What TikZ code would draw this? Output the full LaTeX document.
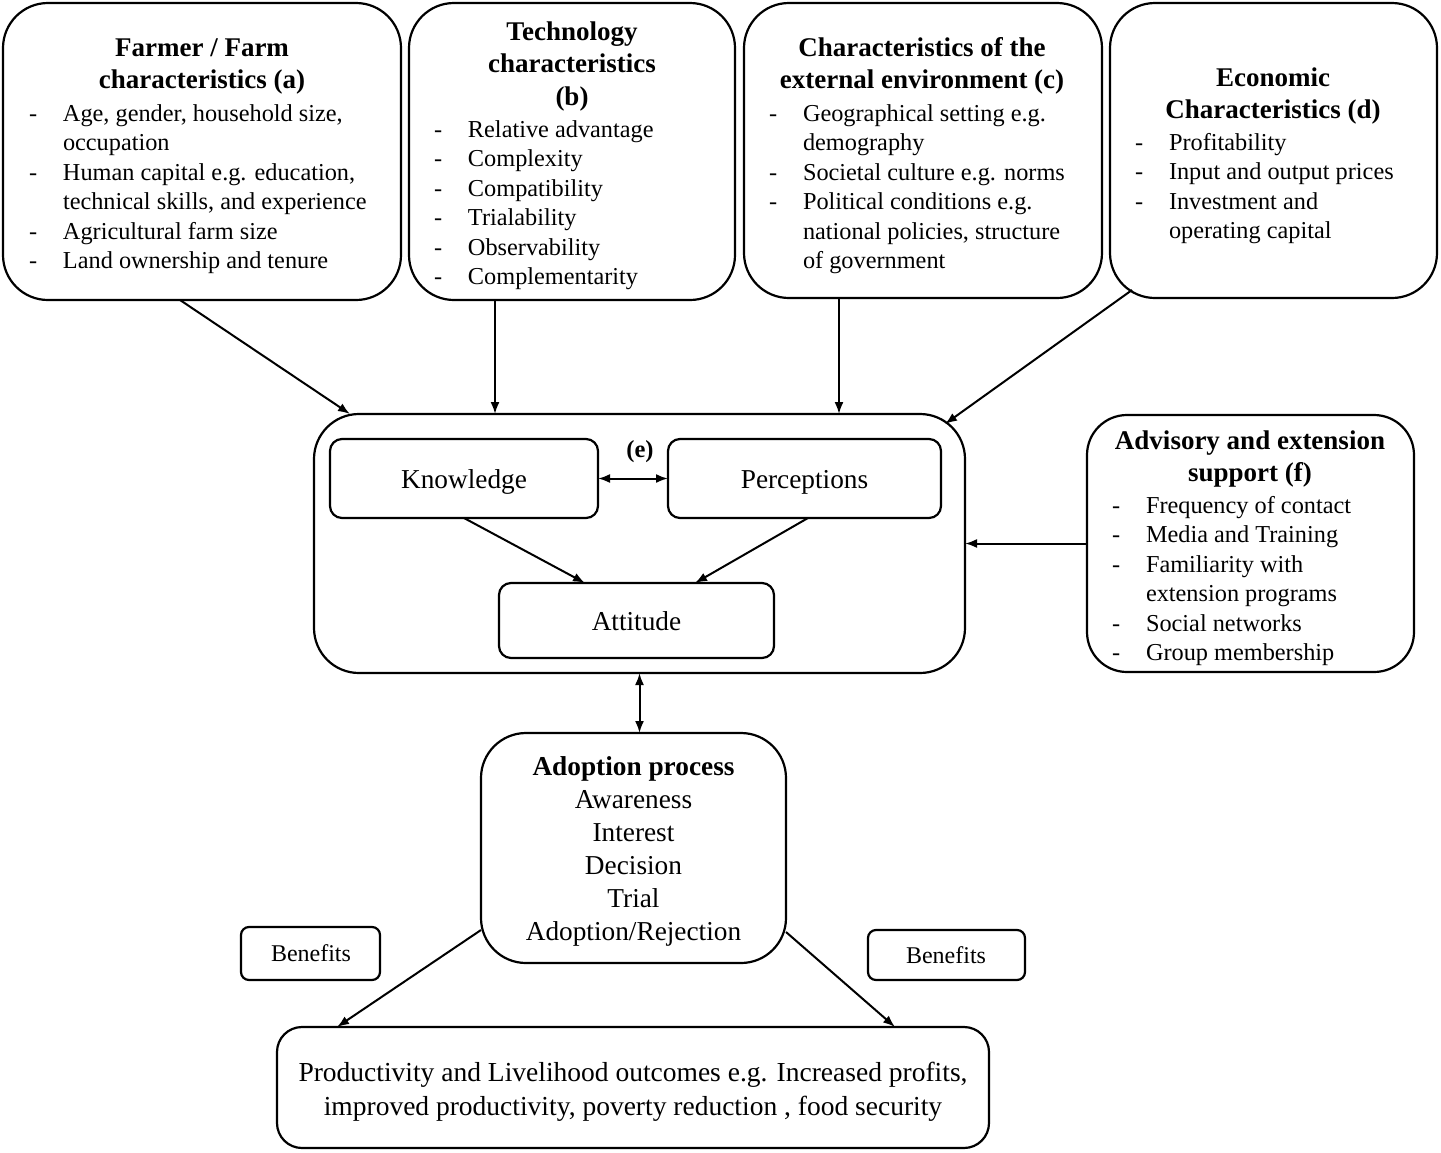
\documentclass[tikz,border=0pt]{standalone}
\usepackage{fontspec}
\setmainfont{Liberation Serif}
\usetikzlibrary{arrows.meta,calc}
\newcommand{\bl}{\makebox[34pt][l]{-}}
\newcommand{\ct}{\hspace*{34pt}}
\begin{document}
\begin{tikzpicture}[x=1pt,y=-1pt,
  box/.style={draw, line width=2.2pt, rounded corners=#1, inner sep=0pt, outer sep=0pt},
  box/.default=45pt,
  txt/.style={inner sep=0pt, outer sep=0pt},
  ttl/.style={txt, anchor=base, font=\fontsize{27}{32.5}\selectfont\bfseries},
  lst/.style={txt, anchor=base west, font=\fontsize{24.3}{29.5}\selectfont},
  mid/.style={txt, anchor=base, font=\fontsize{27.3}{33}\selectfont},
  arr/.style={line width=2pt, -{Latex[length=12pt,width=9pt]}},
  darr/.style={line width=2pt, {Latex[length=12pt,width=9pt]}-{Latex[length=12pt,width=9pt]}}
]
\fill[white] (0,0) rectangle (1441,1152);
\useasboundingbox (0,0) rectangle (1441,1152);

% ---------- top boxes ----------
\node[box, minimum width=398pt, minimum height=297pt] (A) at (202,151.5) {};
\node[box, minimum width=326pt, minimum height=297pt] (B) at (572,151.5) {};
\node[box, minimum width=358pt, minimum height=295pt] (C) at (923,150.5) {};
\node[box, minimum width=327pt, minimum height=295pt] (D) at (1273.5,150.5) {};

\node[ttl] (At) at (202,56) {\begin{tabular}[t]{@{}c@{}}Farmer / Farm\\characteristics (a)\end{tabular}};
\node[lst] (Al) at (29,121) {\begin{tabular}[t]{@{}l@{}}
\bl Age, gender, household size,\\
\ct occupation\\
\bl Human capital e.g. education,\\
\ct technical skills, and experience\\
\bl Agricultural farm size\\
\bl Land ownership and tenure\end{tabular}};

\node[ttl] (Bt) at (572,40) {\begin{tabular}[t]{@{}c@{}}Technology\\characteristics\\(b)\end{tabular}};
\node[lst] (Bl) at (434,137) {\begin{tabular}[t]{@{}l@{}}
\bl Relative advantage\\
\bl Complexity\\
\bl Compatibility\\
\bl Trialability\\
\bl Observability\\
\bl Complementarity\end{tabular}};

\node[ttl] (Ct) at (922,56) {\begin{tabular}[t]{@{}c@{}}Characteristics of the\\external environment (c)\end{tabular}};
\node[lst] (Cl) at (769,121) {\begin{tabular}[t]{@{}l@{}}
\bl Geographical setting e.g.\\
\ct demography\\
\bl Societal culture e.g. norms\\
\bl Political conditions e.g.\\
\ct national policies, structure\\
\ct of government\end{tabular}};

\node[ttl] (Dt) at (1273,86) {\begin{tabular}[t]{@{}c@{}}Economic\\Characteristics (d)\end{tabular}};
\node[lst] (Dl) at (1135,150) {\begin{tabular}[t]{@{}l@{}}
\bl Profitability\\
\bl Input and output prices\\
\bl Investment and\\
\ct operating capital\end{tabular}};

% ---------- central box ----------
\node[box, minimum width=651pt, minimum height=259pt] (E) at (639.5,543.5) {};
\node[box=12pt, minimum width=268pt, minimum height=79pt] (K) at (464,478.5) {};
\node[box=12pt, minimum width=273pt, minimum height=79pt] (P) at (804.5,478.5) {};
\node[box=12pt, minimum width=275pt, minimum height=75pt] (T) at (636.5,620.5) {};
\node[txt, anchor=base, font=\fontsize{24.5}{29}\selectfont\bfseries] (El) at (640,457) {(e)};
\node[mid] (Kt) at (464,488) {Knowledge};
\node[mid] (Pt) at (804.5,488) {Perceptions};
\node[mid] (Tt) at (636.5,630) {Attitude};

% ---------- advisory box ----------
\node[box=40pt, minimum width=327pt, minimum height=257pt] (F) at (1250.5,543.5) {};
\node[ttl] (Ft) at (1250,449) {\begin{tabular}[t]{@{}c@{}}Advisory and extension\\support (f)\end{tabular}};
\node[lst] (Fl) at (1112,513) {\begin{tabular}[t]{@{}l@{}}
\bl Frequency of contact\\
\bl Media and Training\\
\bl Familiarity with\\
\ct extension programs\\
\bl Social networks\\
\bl Group membership\end{tabular}};

% ---------- adoption ----------
\node[box, minimum width=305pt, minimum height=230pt] (Ad) at (633.5,848) {};
\node[mid] (Adt) at (633.5,775) {\begin{tabular}[t]{@{}c@{}}\textbf{Adoption process}\\Awareness\\Interest\\Decision\\Trial\\Adoption/Rejection\end{tabular}};

\node[box=8pt, minimum width=139pt, minimum height=53pt] (B1) at (310.5,953.5) {};
\node[box=8pt, minimum width=157pt, minimum height=50pt] (B2) at (946.5,955) {};
\node[txt, anchor=base, font=\fontsize{24}{26}\selectfont] (B1t) at (311,961) {Benefits};
\node[txt, anchor=base, font=\fontsize{24}{26}\selectfont] (B2t) at (946,963) {Benefits};

\node[box=25pt, minimum width=712pt, minimum height=121pt] (O) at (633,1087.5) {};
\node[txt, anchor=base, font=\fontsize{27.5}{34}\selectfont] (Ot) at (633,1081) {\begin{tabular}[t]{@{}c@{}}Productivity and Livelihood outcomes e.g. Increased profits,\\improved productivity, poverty reduction , food security\end{tabular}};

% ---------- connectors ----------
\draw[arr] ($(A.south)+(-22,0)$) -- ($(E.north west)+(36,0)$);
\coordinate (bs) at ($(B.south)+(-77,0)$);
\draw[arr] (bs) -- (bs |- E.north);
\coordinate (cs) at ($(C.south)+(-84,0)$);
\draw[arr] (cs) -- (cs |- E.north);
\draw[arr] ($(D.south west)+(22,-8)$) -- ($(E.north east)+(-20,10)$);
\draw[arr] (F.west) -- (E.east);
\draw[darr] (K.east) -- (P.west);
\draw[arr] (K.south) -- ($(T.north)+(-51.5,0)$);
\draw[arr] ($(P.south)+(3.5,0)$) -- ($(T.north)+(58.5,0)$);
\draw[darr] (E.south) -- (E.south |- Ad.north);
\draw[arr] ($(Ad.west)+(0,82)$) -- ($(O.north west)+(60,0)$);
\draw[arr] ($(Ad.east)+(0,84)$) -- ($(O.north west)+(618,0)$);
\end{tikzpicture}
\end{document}
